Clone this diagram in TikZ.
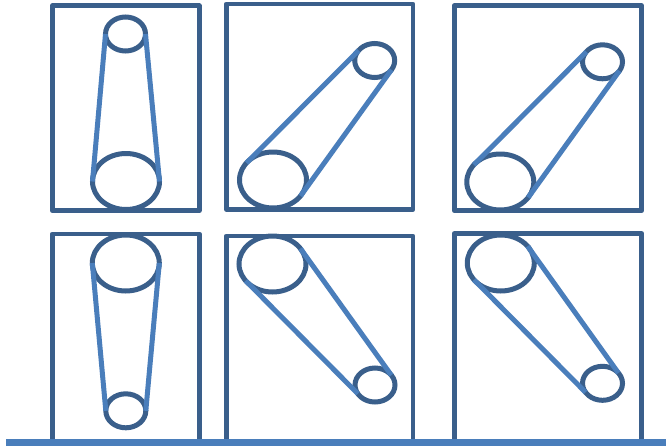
\documentclass[tikz,border=0pt]{standalone}
\usetikzlibrary{shapes.geometric}
\definecolor{darkline}{HTML}{3A5F8B}
\definecolor{beltcol}{HTML}{4A7EBB}
\begin{document}
\begin{tikzpicture}[x=1pt,y=-1pt,
  frame/.style={draw=darkline,line width=4.7pt,line join=round,fill=white},
  wheel/.style={ellipse,draw=darkline,line width=5pt,fill=white,inner sep=0pt,outer sep=0pt},
  bigw/.style={wheel,minimum width=67pt,minimum height=56pt},
  smallw/.style={wheel,minimum width=40pt,minimum height=34pt},
  belt/.style={draw=beltcol,line width=5pt},
  ground/.style={draw=beltcol,line width=7pt}]
\useasboundingbox (0,0) rectangle (666,447);
% frames
\draw[frame] (52.3,5.7) rectangle (199.2,210.7);
\draw[frame] (226.3,4) rectangle (413,209.2);
\draw[frame] (454.2,5.7) rectangle (641.7,210.8);
\draw[frame] (52.3,234) rectangle (199.2,441);
\draw[frame] (226.3,236) rectangle (413,441);
\draw[frame] (454.2,233.5) rectangle (641.7,441);
% wheels
\node[smallw] (s1) at (125.5,34) {};
\node[bigw]   (b1) at (126,181.5) {};
\node[smallw] (s2) at (374.7,60.5) {};
\node[bigw]   (b2) at (273,180) {};
\node[smallw] (s3) at (602.5,61.8) {};
\node[bigw]   (b3) at (500.3,182) {};
\node[bigw]   (b4) at (125.8,263) {};
\node[smallw] (s4) at (125.8,410.8) {};
\node[bigw]   (b5) at (272.5,264) {};
\node[smallw] (s5) at (375,385) {};
\node[bigw]   (b6) at (500.8,263) {};
\node[smallw] (s6) at (602.5,383.3) {};
% belts
\draw[belt] (s1.180) -- (b1.180);
\draw[belt] (s1.0) -- (b1.0);
\draw[belt] (b2.147) -- (s2.148);
\draw[belt] (b2.-30) -- (s2.-29);
\draw[belt] (b3.147) -- (s3.148);
\draw[belt] (b3.-29) -- (s3.-28);
\draw[belt] (b4.180) -- (s4.180);
\draw[belt] (b4.0) -- (s4.0);
\draw[belt] (b5.29) -- (s5.31);
\draw[belt] (b5.212) -- (s5.207);
\draw[belt] (b6.32) -- (s6.33);
\draw[belt] (b6.212) -- (s6.208);
% ground
\draw[ground] (6,442) -- (666,442);
\end{tikzpicture}
\end{document}
